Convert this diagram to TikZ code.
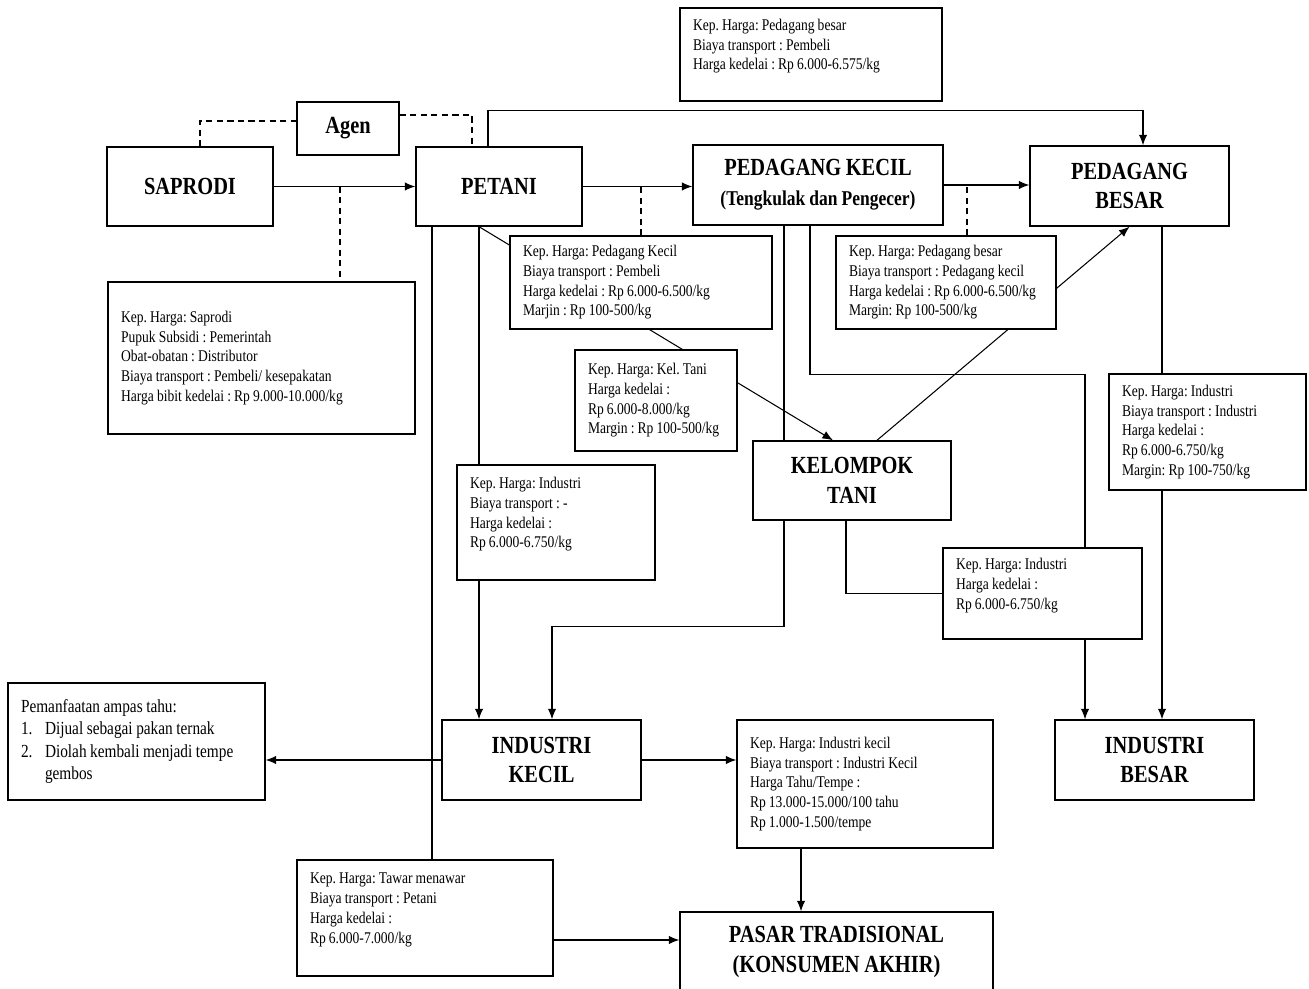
\documentclass[tikz,border=0pt]{standalone}
\usepackage{fontspec}
\setmainfont{Liberation Serif}[FakeStretch=0.83, WordSpace=0.92]
\frenchspacing
\usepackage{tikz}
\usetikzlibrary{arrows.meta}
\usetikzlibrary{backgrounds}
\tikzset{pelaku/.style={draw=black, line width=0.8pt, fill=white, align=center, inner sep=2pt, font=\fontsize{14}{17}\selectfont\bfseries}}
\tikzset{harga/.style={draw=black, line width=0.8pt, fill=white, align=flush left, inner xsep=0.26cm, inner ysep=2pt, font=\fontsize{9.3}{11.2}\selectfont}}
\tikzset{alur/.style={line width=0.6pt}}
\tikzset{putus/.style={line width=0.6pt, dash pattern=on 3.5pt off 2.5pt}}

\begin{document}
\begin{tikzpicture}[x=0.02cm, y=-0.02cm, >={Latex[length=6pt,width=4.8pt]}]
		\useasboundingbox (0,0) rectangle (1309,989);
		\node[harga, text width=4.72cm, minimum height=1.86cm] (HTOP) at (811,54.5) {Kep. Harga: Pedagang besar\\Biaya transport : Pembeli\\Harga kedelai : Rp 6.000-6.575/kg\\\mbox{}};
		\node[pelaku, minimum width=2.04cm, minimum height=1.06cm] (AG) at (348,128.5) {Agen};
		\node[pelaku, minimum width=3.32cm, minimum height=1.58cm] (SAP) at (190,186.5) {SAPRODI};
		\node[pelaku, minimum width=3.32cm, minimum height=1.58cm] (PET) at (499,186.5) {PETANI};
		\node[pelaku, minimum width=5.00cm, minimum height=1.60cm] (PK) at (818,185) {PEDAGANG KECIL\\{\fontsize{12}{14}\selectfont(Tengkulak dan Pengecer)}};
		\node[pelaku, minimum width=3.98cm, minimum height=1.60cm] (PB) at (1129.5,186) {PEDAGANG\\BESAR};
		\node[harga, text width=5.62cm, minimum height=3.04cm] (HSAP) at (261.5,358) {Kep. Harga: Saprodi\\Pupuk Subsidi : Pemerintah\\Obat-obatan : Distributor\\Biaya transport : Pembeli/ kesepakatan\\Harga bibit kedelai : Rp 9.000-10.000/kg};
		\node[harga, text width=4.72cm, minimum height=1.86cm] (HPK) at (641,282.5) {Kep. Harga: Pedagang Kecil\\Biaya transport : Pembeli\\Harga kedelai : Rp 6.000-6.500/kg\\Marjin : Rp 100-500/kg};
		\node[harga, text width=2.72cm, minimum height=2.02cm] (HKT) at (656,400.5) {Kep. Harga: Kel. Tani\\Harga kedelai :\\Rp 6.000-8.000/kg\\Margin : Rp 100-500/kg};
		\node[harga, text width=3.88cm, minimum height=1.86cm] (HPB) at (946,282.5) {Kep. Harga: Pedagang besar\\Biaya transport : Pedagang kecil\\Harga kedelai : Rp 6.000-6.500/kg\\Margin: Rp 100-500/kg};
		\node[harga, text width=3.42cm, minimum height=2.32cm] (HIB) at (1207.5,432) {Kep. Harga: Industri\\Biaya transport : Industri\\Harga kedelai :\\Rp 6.000-6.750/kg\\Margin: Rp 100-750/kg};
		\node[pelaku, minimum width=3.96cm, minimum height=1.58cm] (KT) at (852,480.5) {KELOMPOK\\TANI};
		\node[harga, text width=3.44cm, minimum height=2.30cm] (HIK) at (556,522.5) {Kep. Harga: Industri\\Biaya transport : -\\Harga kedelai :\\Rp 6.000-6.750/kg\\\mbox{}};
		\node[harga, text width=3.46cm, minimum height=1.82cm] (HIT) at (1042.5,593.5) {Kep. Harga: Industri\\Harga kedelai :\\Rp 6.000-6.750/kg\\\mbox{}};
		\node[harga, text width=4.62cm, minimum height=2.34cm, font=\fontsize{10.5}{12.6}\selectfont] (AMP) at (136.5,741.5) {Pemanfaatan ampas tahu:\\\makebox[0.48cm][l]{1.}Dijual sebagai pakan ternak\\\makebox[0.48cm][l]{2.}Diolah kembali menjadi tempe\\\hspace*{0.48cm}gembos};
		\node[pelaku, minimum width=3.98cm, minimum height=1.60cm] (IK) at (541.5,760) {INDUSTRI\\KECIL};
		\node[harga, text width=4.60cm, minimum height=2.56cm] (HTH) at (865,784) {Kep. Harga: Industri kecil\\Biaya transport : Industri Kecil\\Harga Tahu/Tempe :\\Rp 13.000-15.000/100 tahu\\Rp 1.000-1.500/tempe};
		\node[pelaku, minimum width=3.98cm, minimum height=1.60cm] (IB) at (1154.5,760) {INDUSTRI\\BESAR};
		\node[harga, text width=4.60cm, minimum height=2.32cm] (HTW) at (425,918) {Kep. Harga: Tawar menawar\\Biaya transport : Petani\\Harga kedelai :\\Rp 6.000-7.000/kg\\\mbox{}};
		\node[pelaku, minimum width=6.26cm, minimum height=1.60cm] (PS) at (836.5,952) {PASAR TRADISIONAL\\(KONSUMEN AKHIR)};
		\coordinate (d1) at (340,186.5);
		\begin{scope}[on background layer]
		\path [->, alur] (SAP) edge (PET);
		\draw [putus] (d1) -- (d1 |- HSAP.north);
		\draw [putus] ([xshift=0.2cm]SAP.north) |- ([yshift=0.15cm]AG.west);
		\draw [putus] ([yshift=0.27cm]AG.east) -| ([xshift=-0.54cm]PET.north);
		\draw [->, alur] (PET.east) -- (PET.east -| PK.west);
		\draw [putus] (HPK.north) -- (HPK.north |- PET.east);
		\draw [->, alur] (PK.east) -- (PK.east -| PB.west);
		\draw [putus] ([xshift=0.42cm]HPB.north) -- ([xshift=0.42cm]HPB.north |- PK.east);
		\draw [->, alur] ([xshift=-0.22cm]PET.north) -- ++(0,-36) -| ([xshift=0.27cm]PB.north);
		\draw [->, alur] ([xshift=-0.4cm]PET.south) -- ([xshift=-0.38cm]KT.north);
		\draw [->, alur] ([xshift=0.5cm]KT.north) -- (PB.south);
		\draw [alur] ([xshift=-1.34cm]PET.south) -- ([xshift=-1.34cm]PET.south |- HTW.north);
		\draw [->, alur] ([yshift=-0.44cm]HTW.east) -- ([yshift=-0.44cm]HTW.east -| PS.west);
		\draw [->, alur] ([xshift=-0.4cm]PET.south) -- ([xshift=-0.4cm]PET.south |- IK.north);
		\draw [->, alur] ([xshift=-0.68cm]PK.south) -- ++(0,401) -| ([xshift=0.21cm]IK.north);
		\draw [->, alur] ([xshift=-0.16cm]PK.south) -- ++(0,149) -| ([xshift=-1.39cm]IB.north);
		\draw [->, alur] ([xshift=0.65cm]PB.south) -- ([xshift=0.65cm]PB.south |- IB.north);
		\draw [alur] ([xshift=-0.12cm]KT.south) |- (HIT.west);
		\draw [->, alur] (IK.west) -- (IK.west -| AMP.east);
		\draw [->, alur] (IK.east) -- (IK.east -| HTH.west);
		\draw [->, alur] ([xshift=-1.28cm]HTH.south) -- ([xshift=-1.28cm]HTH.south |- PS.north);
		\end{scope}
\end{tikzpicture}
\end{document}
